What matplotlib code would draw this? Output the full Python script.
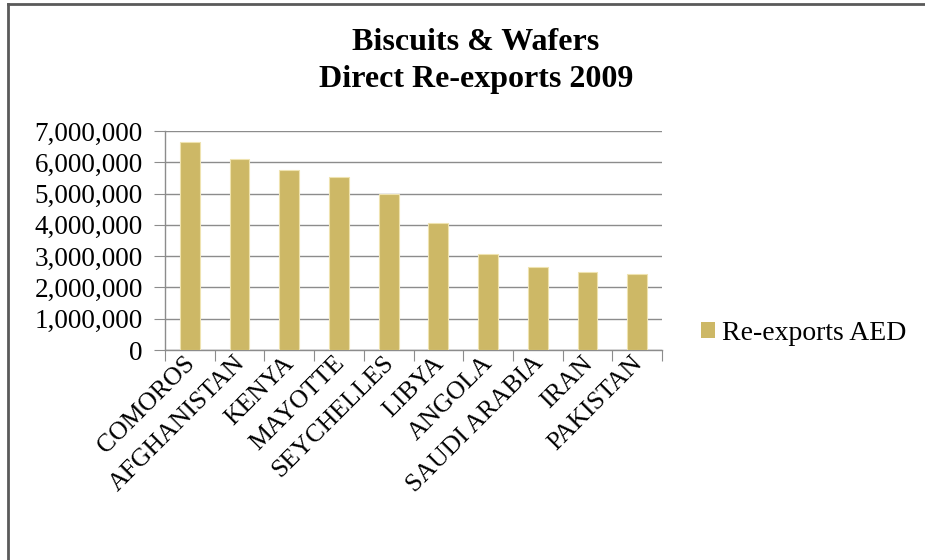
import matplotlib
matplotlib.use("Agg")
import matplotlib.pyplot as plt
import matplotlib.transforms as mtransforms
from matplotlib.ticker import FuncFormatter, MultipleLocator
from matplotlib.patches import Rectangle
from matplotlib.lines import Line2D

countries = ["COMOROS", "AFGHANISTAN", "KENYA", "MAYOTTE", "SEYCHELLES",
             "LIBYA", "ANGOLA", "SAUDI ARABIA", "IRAN", "PAKISTAN"]
values = [6650000, 6120000, 5745000, 5540000, 5000000,
          4055000, 3065000, 2645000, 2485000, 2440000]
title_lines = ["Biscuits & Wafers", "Direct Re-exports 2009"]
legend_label = "Re-exports AED"

FONT = "Liberation Serif"
BAR = "#CDB866"

fig = plt.figure(figsize=(9.25, 5.6), dpi=100)
W, H = 925, 560
ax = fig.add_axes([165 / W, 1 - 350 / H, (662 - 165) / W, (350 - 131) / H])

x = list(range(len(countries)))
ax.bar(x, values, width=0.4, color=BAR, edgecolor="#EFE3B0", linewidth=0.8, zorder=3)
ax.set_xlim(-0.5, len(countries) - 0.5)
ax.set_ylim(0, 7000000)
ax.yaxis.set_major_locator(MultipleLocator(1000000))
ax.yaxis.set_major_formatter(FuncFormatter(lambda v, p: f"{int(v):,}"))
ax.grid(axis="y", color="#8C8C8C", linewidth=1.0, zorder=0)
for s in ["top", "right"]:
    ax.spines[s].set_visible(False)
for s in ["left", "bottom"]:
    ax.spines[s].set_color("#8C8C8C")
    ax.spines[s].set_linewidth(1.0)

ax.set_xticks([i - 0.5 for i in range(len(countries) + 1)], minor=False)
ax.set_xticklabels([])
ax.set_xticks(x, minor=True)
ax.set_xticklabels(countries, minor=True, rotation=45, ha="right",
                   rotation_mode="anchor", fontsize=18.5, family=FONT)
ax.tick_params(axis="x", which="major", length=8, color="#8C8C8C", direction="out")
ax.tick_params(axis="x", which="minor", length=0, pad=5)
ax.tick_params(axis="y", length=8, color="#8C8C8C", labelsize=19.5, pad=8)
for lab in ax.get_yticklabels():
    lab.set_family(FONT)
offset = mtransforms.ScaledTranslation(-6 / 100, 5 / 100, fig.dpi_scale_trans)
for lab in ax.get_xticklabels(minor=True):
    lab.set_transform(lab.get_transform() + offset)

fig.text(476 / W, 1 - 43 / H, title_lines[0], ha="center", va="center",
         fontsize=23, fontweight="bold", family=FONT)
fig.text(476 / W, 1 - 80 / H, title_lines[1], ha="center", va="center",
         fontsize=23, fontweight="bold", family=FONT)

handle = Rectangle((0, 0), 1, 1, facecolor=BAR, edgecolor="none")
leg = fig.legend([handle], [legend_label], loc="center left",
                 bbox_to_anchor=(701 / W, 1 - 333 / H), frameon=False,
                 prop={"family": FONT, "size": 20}, handlelength=0.5,
                 handleheight=0.5, handletextpad=0.25, borderaxespad=0,
                 borderpad=0)

# outer border (left and top only, as in the cropped reference)
fig.add_artist(Line2D([8 / W, 8 / W], [0, 1 - 4 / H], transform=fig.transFigure,
                      color="#5A5A5A", linewidth=2))
fig.add_artist(Line2D([8 / W, 1], [1 - 4 / H, 1 - 4 / H], transform=fig.transFigure,
                      color="#5A5A5A", linewidth=2))

fig.savefig("out.png", dpi=100, facecolor="white")
